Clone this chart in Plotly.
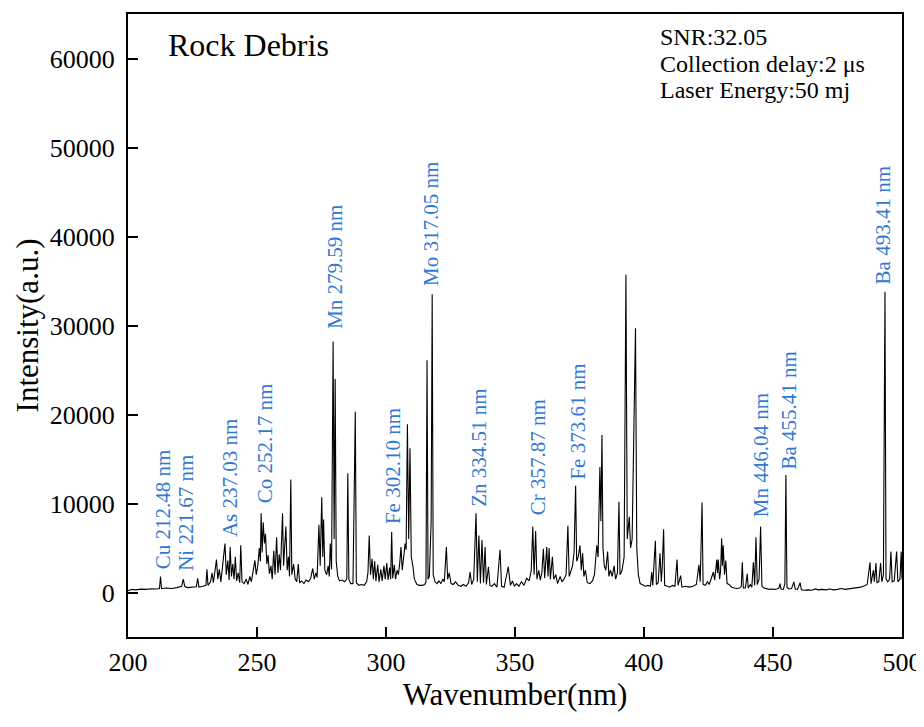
import plotly.graph_objects as go

# ---------------- data ----------------
wavelength_nm = [
    200.0, 201.5, 203.0, 205.0, 207.0, 209.0, 211.0, 212.2, 212.6, 213.0,
    215.0, 217.0, 219.0, 220.8, 221.4, 222.0, 223.0, 225.0, 226.5, 227.0,
    227.5, 229.0, 230.2, 230.6, 231.0, 232.0, 232.6, 233.1, 233.8, 234.3,
    234.8, 235.4, 236.0, 236.6, 237.1, 237.6, 238.1, 238.7, 239.2, 239.6,
    240.1, 240.6, 241.1, 241.6, 242.1, 242.7, 243.3, 243.7, 244.2, 245.0,
    245.8, 246.5, 247.2, 247.8, 248.5, 249.2, 249.7, 250.3, 250.9, 251.3,
    251.6, 252.0, 252.4, 252.9, 253.3, 253.8, 254.3, 254.8, 255.4, 255.9,
    256.5, 257.0, 257.6, 258.1, 258.6, 259.1, 259.9, 260.3, 260.8, 261.2,
    261.7, 262.2, 262.6, 263.1, 263.5, 264.2, 264.8, 265.4, 266.0, 266.5,
    267.3, 268.2, 269.0, 270.0, 270.8, 271.6, 272.2, 272.8, 273.3, 274.0,
    274.5, 275.1, 275.5, 275.8, 276.3, 277.0, 277.6, 278.0, 278.4, 278.9,
    279.5, 279.9, 280.3, 280.7, 281.3, 282.0, 283.0, 284.0, 284.8, 285.2,
    285.6, 286.3, 287.2, 288.1, 288.5, 289.5, 290.5, 291.5, 292.5, 293.0,
    293.5, 294.0, 294.6, 295.1, 295.6, 296.1, 296.8, 297.3, 298.0, 298.5,
    299.2, 299.7, 300.3, 300.8, 301.4, 301.8, 302.2, 302.6, 303.2, 303.7,
    304.3, 304.8, 305.3, 305.8, 306.3, 306.8, 307.4, 307.8, 308.3, 308.8,
    309.3, 309.8, 310.4, 311.0, 312.0, 313.0, 314.0, 315.0, 315.5, 315.9,
    316.3, 316.8, 317.5, 317.9, 318.3, 319.0, 319.8, 320.5, 321.3, 322.0,
    322.6, 323.4, 323.9, 324.5, 325.2, 326.0, 327.0, 328.0, 329.0, 330.0,
    331.0, 332.0, 332.6, 333.2, 334.0, 334.9, 335.4, 336.0, 336.6, 337.2,
    337.8, 338.4, 338.9, 339.7, 340.3, 341.0, 342.0, 343.0, 344.2, 344.8,
    345.8, 346.5, 347.4, 348.2, 349.0, 349.8, 350.6, 351.5, 352.5, 353.5,
    354.5, 355.5, 356.3, 356.9, 357.4, 358.0, 358.5, 359.2, 359.8, 360.4,
    361.0, 361.5, 362.3, 362.8, 363.2, 363.7, 364.5, 365.0, 365.8, 366.5,
    367.5, 368.2, 369.0, 369.8, 370.5, 371.0, 371.7, 372.3, 372.9, 373.5,
    373.9, 374.5, 375.2, 375.7, 376.2, 376.7, 377.3, 378.0, 379.0, 380.0,
    380.8, 381.3, 381.7, 382.2, 382.9, 383.3, 383.7, 384.1, 384.6, 385.2,
    385.9, 386.4, 387.0, 387.7, 388.4, 389.0, 389.7, 390.3, 390.7, 391.5,
    392.3, 393.0, 393.5, 394.3, 394.8, 395.4, 395.9, 396.7, 397.2, 397.8,
    398.5, 399.5, 400.5, 401.5, 402.5, 403.0, 403.4, 404.4, 404.8, 405.5,
    406.2, 406.7, 407.1, 407.6, 408.0, 409.0, 410.0, 411.0, 412.0, 412.8,
    413.2, 414.2, 414.7, 416.0, 417.5, 419.0, 420.3, 421.3, 421.8, 422.5,
    422.9, 423.8, 424.6, 425.3, 426.1, 426.9, 427.4, 428.2, 428.5, 428.8,
    429.3, 429.7, 430.1, 430.4, 430.7, 431.2, 431.7, 432.2, 433.0, 434.0,
    435.0, 436.0, 437.0, 437.7, 438.1, 438.5, 439.3, 440.0, 440.4, 441.2,
    441.8, 442.4, 442.9, 443.4, 443.9, 444.6, 445.2, 445.7, 446.5, 447.5,
    448.5, 449.5, 450.5, 451.5, 452.3, 452.7, 453.1, 454.0, 454.6, 455.0,
    455.4, 456.2, 457.2, 458.1, 458.6, 459.5, 460.5, 461.0, 462.0, 463.5,
    465.0, 466.5, 467.5, 469.0, 470.5, 472.0, 473.5, 475.0, 476.5, 478.0,
    479.5, 481.0, 482.5, 484.0, 485.5, 486.5, 487.6, 488.0, 488.9, 489.3,
    489.9, 490.3, 491.0, 491.7, 492.2, 492.8, 493.4, 493.8, 494.5, 495.2,
    495.7, 496.2, 497.0, 497.9, 498.4, 499.2, 499.7, 500.0,
]

intensity_au = [
    200, 350, 300, 380, 350, 420, 400, 450, 1800, 450,
    500, 450, 550, 700, 1500, 700, 550, 600, 650, 1600,
    600, 700, 800, 2600, 800, 1200, 2200, 1100, 2800, 3700,
    1500, 2600, 1200, 3400, 4200, 5500, 2000, 3600, 1400, 5100,
    1800, 3200, 1500, 4000, 1300, 2200, 1100, 5300, 1200, 1000,
    1500, 900, 1800, 1200, 2400, 3600, 2000, 3000, 5000, 3500,
    8900, 4500, 7900, 5500, 6600, 3200, 4200, 2100, 3000, 1500,
    4700, 2000, 6200, 2200, 4300, 2500, 8900, 3000, 5500, 7400,
    2500, 4000, 1800, 12700, 2000, 3200, 1500, 1200, 3200, 1100,
    1300, 1000, 1400, 1200, 1600, 2700, 1500, 2200, 1700, 7600,
    3000, 10700, 4000, 8200, 2500, 2000, 3000, 1800, 5500, 2600,
    28200, 6000, 24000, 3500, 1800, 1300, 1400, 1200, 1500, 13400,
    1500, 1000, 1000, 20300, 1100, 800, 900, 800, 1200, 2200,
    6400, 2000, 3800, 1500, 3500, 1300, 3100, 1200, 2600, 1300,
    3000, 1500, 3300, 1400, 2800, 1500, 6800, 1600, 3100, 1500,
    2500, 2000, 3200, 5100, 2500, 3800, 5500, 4800, 18900, 6000,
    16200, 4000, 3000, 1500, 900, 800, 800, 900, 1200, 26100,
    1500, 1800, 8000, 33500, 2000, 1200, 1000, 1300, 1000, 1500,
    1200, 5100, 1500, 2200, 1000, 900, 1200, 800, 700, 900,
    700, 1100, 2300, 900, 1500, 8900, 1200, 6400, 1000, 5900,
    1100, 5100, 900, 2900, 800, 700, 1000, 600, 4800, 700,
    600, 1600, 2900, 800, 1300, 700, 1000, 700, 1200, 800,
    1600, 1300, 2500, 7400, 2000, 6900, 1500, 2500, 1400, 2200,
    4900, 1600, 5100, 1800, 5000, 1500, 4000, 1500, 2000, 1000,
    1800, 1200, 1500, 2000, 7500, 1800, 2500, 3000, 4500, 12000,
    3500, 4000, 5300, 2500, 4400, 1800, 2500, 1100, 1000, 1300,
    2000, 4500, 5300, 4000, 14100, 8000, 17700, 5000, 3000, 2500,
    4600, 1800, 2500, 1800, 3000, 1500, 2200, 10200, 2000, 2500,
    4000, 35700, 6000, 8500, 5000, 6000, 16000, 29700, 5000, 2000,
    1000, 800, 700, 800, 700, 2300, 800, 5800, 900, 1100,
    4400, 1200, 3000, 7100, 800, 700, 600, 800, 700, 3700,
    800, 1900, 600, 700, 600, 700, 900, 3100, 1200, 10100,
    900, 800, 1200, 900, 1600, 2300, 1400, 3700, 2200, 3700,
    1500, 2500, 6100, 3000, 5300, 2000, 3600, 1000, 900, 600,
    500, 450, 500, 700, 3400, 500, 500, 2100, 500, 900,
    600, 3400, 800, 6200, 900, 1500, 7400, 700, 500, 400,
    350, 400, 350, 400, 500, 1000, 400, 350, 1000, 13200,
    600, 400, 450, 1200, 400, 350, 1100, 300, 250, 300,
    250, 400, 300, 350, 300, 400, 300, 350, 450, 350,
    400, 450, 500, 600, 750, 900, 3400, 1000, 2500, 1200,
    3300, 1100, 1200, 3300, 1200, 2000, 33800, 1500, 1200, 1500,
    4600, 1200, 1300, 4600, 1200, 1500, 4600, 1500,
]

label_text = [
    "Cu 212.48 nm", "Ni 221.67 nm", "As 237.03 nm", "Co 252.17 nm",
    "Mn 279.59 nm", "Fe 302.10 nm", "Mo 317.05 nm", "Zn 334.51 nm",
    "Cr 357.87 nm", "Fe 373.61 nm", "Mn 446.04 nm", "Ba 455.41 nm",
    "Ba 493.41 nm",
]
label_x_nm = [213.6, 222.4, 239.5, 253.4, 280.2, 302.8, 317.7, 335.8,
              359.0, 374.5, 445.2, 456.2, 493.0]
label_base_int = [2500, 2300, 6100, 9900, 29500, 7600, 34300, 9550,
                  8600, 12600, 8300, 13700, 34500]

sample_name = "Rock Debris"
info_lines = ["SNR:32.05", "Collection delay:2 \u03bcs", "Laser Energy:50 mj"]

x_ticks = [200, 250, 300, 350, 400, 450, 500]
y_ticks = [0, 10000, 20000, 30000, 40000, 50000, 60000]

# ---------------- figure ----------------
SERIF = "Liberation Serif, Times New Roman, serif"
BLUE = "#3277d2"

fig = go.Figure()
fig.add_trace(go.Scatter(
    x=wavelength_nm, y=intensity_au, mode="lines",
    line=dict(color="black", width=1.1), showlegend=False,
))

annotations = []
for t, xv, yv in zip(label_text, label_x_nm, label_base_int):
    annotations.append(dict(
        x=xv, y=yv, xref="x", yref="y", text=t, showarrow=False,
        textangle=-90, xanchor="center", yanchor="bottom", borderpad=0,
        font=dict(family=SERIF, size=21, color=BLUE),
    ))

annotations.append(dict(
    x=0.05, y=0.950, xref="paper", yref="paper", text=sample_name,
    showarrow=False, xanchor="left", yanchor="middle", borderpad=0,
    font=dict(family=SERIF, size=32, color="black"),
))
for yy, t in zip([0.963, 0.9205, 0.878], info_lines):
    annotations.append(dict(
        x=0.686, y=yy, xref="paper", yref="paper", text=t,
        showarrow=False, xanchor="left", yanchor="middle", borderpad=0,
        font=dict(family=SERIF, size=24, color="black"),
    ))

axis_common = dict(
    showline=True, linecolor="black", linewidth=2, mirror=True,
    ticks="inside", ticklen=10, tickwidth=2, tickcolor="black",
    showgrid=False, zeroline=False, automargin=False,
    tickfont=dict(family=SERIF, size=26, color="black"),
)

# the page body adds an 8 px offset, so the figure is sized to fit the window
fig.update_layout(
    width=916, height=719,
    margin=dict(l=120, r=22, t=6, b=90),
    paper_bgcolor="white", plot_bgcolor="white",
    annotations=annotations,
    xaxis=dict(
        range=[200, 500], tickvals=x_ticks, tickformat="d",
        title=dict(text="Wavenumber(nm)", standoff=3,
                   font=dict(family=SERIF, size=31, color="black")),
        ticklabelstandoff=1,
        **axis_common,
    ),
    yaxis=dict(
        range=[-5000, 65000], tickvals=y_ticks, tickformat="d",
        title=dict(text="Intensity(a.u.)", standoff=2,
                   font=dict(family=SERIF, size=31, color="black")),
        ticklabelstandoff=6,
        **axis_common,
    ),
)

fig.write_html("out.html")
